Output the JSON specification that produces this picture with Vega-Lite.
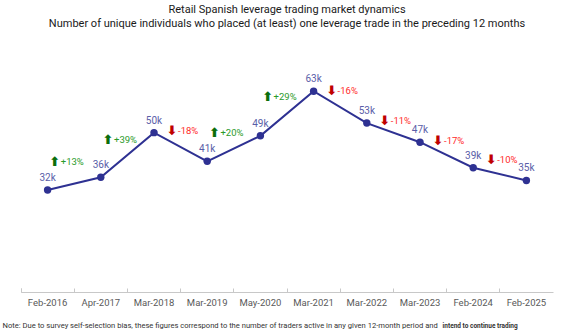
{
  "$schema": "https://vega.github.io/schema/vega-lite/v6.json",
  "width": 532,
  "height": 292,
  "autosize": {"type": "none"},
  "padding": {"left": 21, "top": 37, "right": 29, "bottom": 3},
  "background": "white",
  "config": {"view": {"stroke": null}, "font": "Roboto"},
  "title": {
    "text": "Retail Spanish leverage trading market dynamics",
    "subtitle": "Number of unique individuals who placed (at least) one leverage trade in the preceding 12 months",
    "anchor": "middle",
    "font": "Roboto",
    "subtitleFont": "Roboto",
    "fontSize": 11,
    "subtitleFontSize": 11,
    "fontWeight": "normal",
    "color": "#1a1a1a",
    "subtitleColor": "#1a1a1a",
    "subtitlePadding": 3,
    "offset": 8
  },
  "datasets": {
    "traders": [
      {"period": "Feb-2016", "value": 32000},
      {"period": "Apr-2017", "value": 36000},
      {"period": "Mar-2018", "value": 50000},
      {"period": "Mar-2019", "value": 41000},
      {"period": "May-2020", "value": 49000},
      {"period": "Mar-2021", "value": 63000},
      {"period": "Mar-2022", "value": 53000},
      {"period": "Mar-2023", "value": 47000},
      {"period": "Feb-2024", "value": 39000},
      {"period": "Feb-2025", "value": 35000}
    ],
    "changes": [
      {"period": "Apr-2017", "labelAt": 40800, "change": "+13%", "dir": "up"},
      {"period": "Mar-2018", "labelAt": 47700, "change": "+39%", "dir": "up"},
      {"period": "Mar-2018", "labelAt": 50500, "change": "-18%", "dir": "down"},
      {"period": "May-2020", "labelAt": 49900, "change": "+20%", "dir": "up"},
      {"period": "Mar-2021", "labelAt": 61200, "change": "+29%", "dir": "up"},
      {"period": "Mar-2021", "labelAt": 63100, "change": "-16%", "dir": "down"},
      {"period": "Mar-2022", "labelAt": 53600, "change": "-11%", "dir": "down"},
      {"period": "Mar-2023", "labelAt": 47400, "change": "-17%", "dir": "down"},
      {"period": "Feb-2024", "labelAt": 41400, "change": "-10%", "dir": "down"}
    ],
    "note": [
      {"period": "Feb-2016", "level": -11600, "part": "Note: Due to survey self-selection bias, these figures correspond to the number of traders active in any given 12-month period and", "weight": "normal"},
      {"period": "Feb-2016", "level": -11600, "part": "intend to continue trading", "weight": "bold"}
    ]
  },
  "encoding": {
    "x": {
      "field": "period",
      "type": "ordinal",
      "sort": null,
      "scale": {"type": "band", "paddingInner": 0, "paddingOuter": 0,
        "domain": ["Feb-2016","Apr-2017","Mar-2018","Mar-2019","May-2020","Mar-2021","Mar-2022","Mar-2023","Feb-2024","Feb-2025"]},
      "axis": {
        "title": null,
        "offset": -37,
        "labelAngle": 0,
        "labelFont": "Roboto",
        "labelFontSize": 9.5,
        "labelColor": "#595959",
        "labelPadding": 9,
        "domainColor": "#c8c8c8",
        "tickColor": "#c8c8c8",
        "tickSize": -4,
        "bandPosition": 0,
        "tickExtra": true
      }
    }
  },
  "layer": [
    {
      "data": {"name": "traders"},
      "mark": {"type": "line", "color": "#2e3192", "strokeWidth": 2},
      "encoding": {"y": {"field": "value", "type": "quantitative", "scale": {"domain": [-11600, 80000], "nice": false, "zero": false}, "axis": null}}
    },
    {
      "data": {"name": "traders"},
      "mark": {"type": "point", "filled": true, "color": "#2e3192", "size": 55, "opacity": 1},
      "encoding": {"y": {"field": "value", "type": "quantitative"}}
    },
    {
      "data": {"name": "traders"},
      "mark": {"type": "text", "color": "#5a5ea8", "fontSize": 10, "font": "Roboto", "baseline": "bottom", "dy": -7},
      "encoding": {
        "y": {"field": "value", "type": "quantitative"},
        "text": {"field": "value", "type": "quantitative", "format": ".2s"}
      }
    },
    {
      "data": {"name": "changes"},
      "transform": [{"filter": "datum.dir == 'up'"}],
      "encoding": {"y": {"field": "labelAt", "type": "quantitative"}},
      "layer": [
        {
          "mark": {"type": "text", "text": "⬆", "font": "DejaVu Sans", "fontSize": 13, "fontWeight": "bold", "color": "#0b6e0b", "align": "center", "baseline": "middle", "dx": -46}
        },
        {
          "mark": {"type": "text", "font": "Roboto", "fontSize": 9.5, "color": "#2a9a2a", "align": "left", "baseline": "middle", "dx": -40},
          "encoding": {"text": {"field": "change"}}
        }
      ]
    },
    {
      "data": {"name": "changes"},
      "transform": [{"filter": "datum.dir == 'down'"}],
      "encoding": {"y": {"field": "labelAt", "type": "quantitative"}},
      "layer": [
        {
          "mark": {"type": "text", "text": "⬇", "font": "DejaVu Sans", "fontSize": 13, "fontWeight": "bold", "color": "#c00000", "align": "center", "baseline": "middle", "dx": 18}
        },
        {
          "mark": {"type": "text", "font": "Roboto", "fontSize": 9.5, "color": "#ff2a2a", "align": "left", "baseline": "middle", "dx": 24},
          "encoding": {"text": {"field": "change"}}
        }
      ]
    },
    {
      "data": {"name": "note"},
      "transform": [{"filter": "datum.weight == 'normal'"}],
      "mark": {"type": "text", "font": "Roboto", "fontSize": 7.6, "color": "#333333", "align": "left", "baseline": "alphabetic", "dx": -45, "dy": -1},
      "encoding": {"text": {"field": "part"}, "y": {"field": "level", "type": "quantitative"}}
    },
    {
      "data": {"name": "note"},
      "transform": [{"filter": "datum.weight == 'bold'"}],
      "mark": {"type": "text", "font": "Roboto", "fontSize": 6.5, "fontWeight": "bold", "color": "#333333", "align": "left", "baseline": "alphabetic", "dx": 395, "dy": -1},
      "encoding": {"text": {"field": "part"}, "y": {"field": "level", "type": "quantitative"}}
    }
  ]
}
